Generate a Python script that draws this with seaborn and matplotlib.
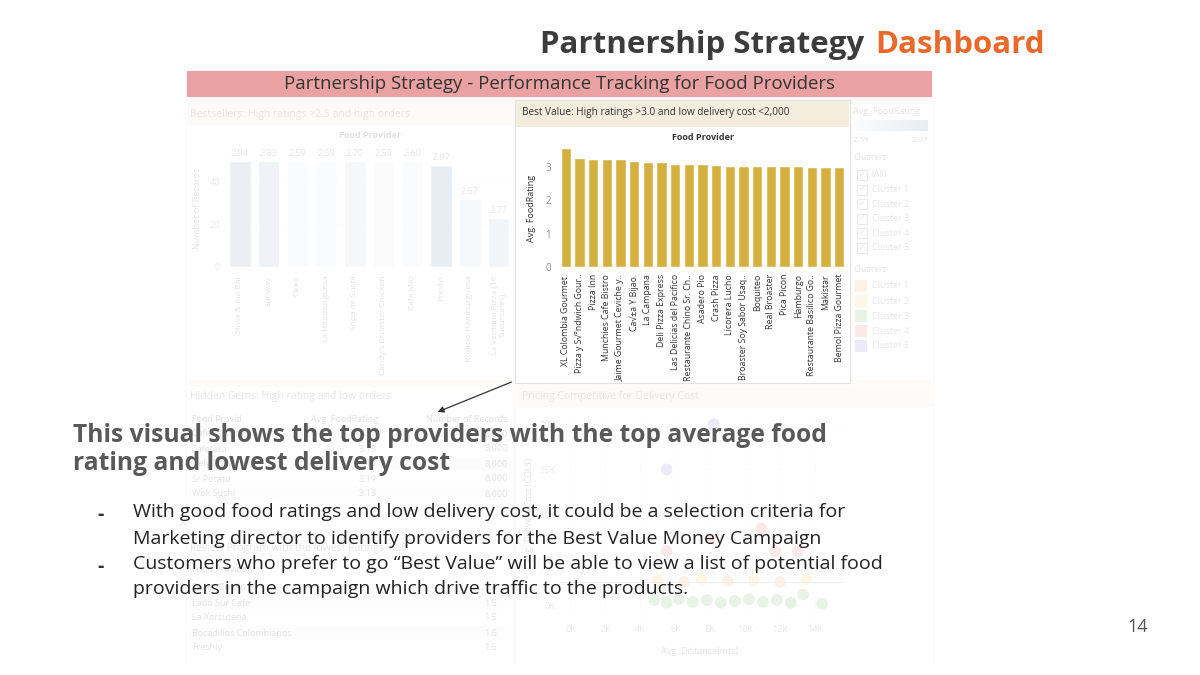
import numpy as np
import pandas as pd
import matplotlib
matplotlib.use("Agg")
import matplotlib.pyplot as plt
import seaborn as sns
from matplotlib.patches import Rectangle, FancyArrowPatch


# Best Value panel (highlighted)
best_value_providers = ["XL Colombia Gourmet.", "Pizza y S√°ndwich Gour..", "Pizza Inn",
                        "Munchies Cafe Bistro", "Jaime Gourmet Ceviche y..", "Ca√±a Y Bijao.",
                        "La Campana", "Deli Pizza Express", "Las Delicias del Pacifico",
                        "Restaurante Chino Sr. Ch..", "Asadero Pio", "Crash Pizza",
                        "Licorera Lucho", "Broaster Soy Sabor Usaq..", "Boquiteo",
                        "Real Broaster", "Pica Picon", "Hamburgo",
                        "Restaurante Basilico Go..", "Makistar", "Bemol Pizza Gourmet"]
best_value_rating = [3.55, 3.25, 3.22, 3.22, 3.22, 3.16, 3.14, 3.14, 3.09, 3.07, 3.07,
                     3.05, 3.02, 3.02, 3.02, 3.02, 3.02, 3.02, 3.00, 3.00, 3.00]

# Bestsellers panel (faded)
bestseller_providers = ["Olivia & Kai Bar", "Subway", "Oxxo", "La Hamburguesa", "Sopa de Sushi",
                        "Candy's Broaster Chicken", "Cafe Mio", "Presto", "Rodizio Hamburguesa",
                        "La Ventana Pizza (10\nSucursales)"]
bestseller_records = [50, 50, 50, 50, 50, 50, 50, 48, 32, 23]
bestseller_rating = [2.94, 2.83, 2.59, 2.59, 2.70, 2.59, 2.60, 2.97, 2.67, 2.77]

# Hidden gems table (faded)
hidden_providers = ["Cafe Cultura", "Cafetera", "Dely Pizza", "Sr Potato", "Wok Sushi"]
hidden_rating = ["3.25", "3.13", "3.13", "3.19", "3.13"]
hidden_records = ["8,000", "8,000", "8,000", "8,000", "8,000"]

# Review program table (faded)
review_providers = ["Sabor Criollo", "Lado Sur Cafe", "La Xarcuteria", "Bocadillos Colombianos", "Freshly"]
review_rating = ["1.4", "1.5", "1.5", "1.6", "1.6"]

# Pricing scatter (faded), thousands
scatter_distance = [8.2, 5.5, 10.9, 8.0, 5.5, 11.7, 13.0, 5.0, 6.5, 7.5, 9.0, 10.5, 12.0, 13.5,
                    4.8, 5.5, 6.2, 7.0, 7.8, 8.6, 9.4, 10.2, 11.0, 11.8, 12.6, 13.3, 14.4]
scatter_cost = [20, 15, 8.5, 7.4, 6.0, 6.0, 6.0, 2.8, 2.6, 2.9, 2.7, 2.8, 2.6, 2.9,
                0.6, 0.3, 0.7, 0.4, 0.6, 0.3, 0.5, 0.7, 0.4, 0.6, 0.3, 1.2, 0.2]
scatter_cluster = ["Cluster 5", "Cluster 5", "Cluster 4", "Cluster 4", "Cluster 4", "Cluster 4",
                   "Cluster 4", "Cluster 2", "Cluster 1", "Cluster 2", "Cluster 1", "Cluster 2",
                   "Cluster 1", "Cluster 2", "Cluster 3", "Cluster 3", "Cluster 3", "Cluster 3",
                   "Cluster 3", "Cluster 3", "Cluster 3", "Cluster 3", "Cluster 3", "Cluster 3",
                   "Cluster 3", "Cluster 3", "Cluster 3"]
cluster_names = ["Cluster 1", "Cluster 2", "Cluster 3", "Cluster 4", "Cluster 5"]
cluster_colors = ["#f4a65c", "#efd35a", "#78b46e", "#e8737a", "#8a86d8"]

bullet_lines = ["With good food ratings and low delivery cost, it could be a selection criteria for",
                "Marketing director to identify providers for the Best Value Money Campaign",
                "Customers who prefer to go \u201cBest Value\u201d will be able to view a list of potential food",
                "providers in the campaign which drive traffic to the products."]
bullet_starts = [True, False, True, False]


sns.set_style("white")
plt.rcParams["font.family"] = ["Open Sans", "DejaVu Sans"]

W, H = 1200, 675


def fx(x):
    return x / W


def fy(y):
    return 1 - y / H


def rect(l, t, r, b):
    return [l / W, 1 - b / H, (r - l) / W, (b - t) / H]


def box(l, t, r, b, **kw):
    fig.add_artist(Rectangle((fx(l), fy(b)), (r - l) / W, (b - t) / H,
                             transform=fig.transFigure, **kw))


def ftext(x, y, s, **kw):
    # text that sits under the white fade
    kw.setdefault("fontsize", 6.5)
    kw.setdefault("color", "#555")
    kw.setdefault("va", "center")
    return fig.text(fx(x), fy(y), s, zorder=1, **kw)


def clean(ax):
    ax.set_facecolor("none")
    for s in ax.spines.values():
        s.set_visible(False)
    ax.tick_params(length=0)
    ax.set_xlabel("")
    ax.set_ylabel("")


fig = plt.figure(figsize=(12, 6.75), dpi=100)

# ---------- dashboard background (faded later) ----------
box(185, 100, 935, 665, facecolor="#f4ede4", edgecolor="none", zorder=-3)
for l, t, r, b in [(187, 103, 513, 380), (852, 103, 933, 380), (187, 387, 513, 540),
                   (187, 542, 513, 665), (517, 387, 933, 665)]:
    box(l, t, r, b, facecolor="white", edgecolor="none", zorder=-2)
box(187, 103, 513, 125, facecolor="#f7e6d6", edgecolor="none", zorder=-1)
box(517, 387, 933, 407, facecolor="#f7e6d6", edgecolor="none", zorder=-1)

# Bestsellers bar chart
ftext(190, 114, "Bestsellers: High ratings >2.5 and high orders", fontsize=7.5, color="#666")
ftext(370, 136, "Food Provider", color="#444", ha="center", fontweight="bold")
cmap = sns.blend_palette(["#e4ebf2", "#7896b5"], as_cmap=True)
bs_colors = [cmap((r - 2.59) / (2.97 - 2.59)) for r in bestseller_rating]
ax1 = fig.add_axes(rect(225.5, 150, 513, 267))
sns.barplot(x=bestseller_providers, y=bestseller_records, hue=bestseller_providers,
            palette=bs_colors, legend=False, width=0.75, saturation=1, ax=ax1)
clean(ax1)
ax1.set_xlim(-0.5, 9.5)
ax1.set_ylim(0, 55)
ax1.set_yticks([0, 20, 40])
ax1.tick_params(axis="y", labelsize=6.5, labelcolor="#777", pad=4)
ax1.tick_params(axis="x", labelsize=6, labelcolor="#555", rotation=90, pad=6)
ax1.yaxis.grid(True, color="#eeeeee", lw=0.6)
for cont, r in zip(ax1.containers, bestseller_rating):
    ax1.bar_label(cont, labels=[f"{r:.2f}"], fontsize=6.5, color="#666", padding=2)
ftext(197, 208, "Number of Records", rotation=90, ha="center")

# Legend panel
ftext(853, 112, "Avg. FoodRating")
grad = fig.add_axes(rect(855, 120, 928, 131))
grad.imshow(np.linspace(0, 1, 100)[None, :], cmap=cmap, aspect="auto")
grad.axis("off")
ftext(853, 140, "2.59", fontsize=6, color="#666")
ftext(928, 140, "2.97", fontsize=6, color="#666", ha="right")
ftext(853, 158, "Clusters")
for i, name in enumerate(["(All)"] + cluster_names):
    y = 175 + i * 14.6
    box(857, y - 5, 867, y + 5, facecolor="white", edgecolor="#777", lw=0.7, zorder=-1)
    ftext(858.5, y, "\u2713", fontsize=6)
    ftext(872, y, name, color="#666")
ftext(853, 270, "Clusters")
for i, (name, c) in enumerate(zip(cluster_names, cluster_colors)):
    y = 286 + i * 15
    box(855, y - 6, 867, y + 6, facecolor=c, edgecolor="none", zorder=-1)
    ftext(872, y, name, color="#666")

# Hidden gems table
ftext(190, 396, "Hidden Gems: High rating and low orders", fontsize=7.5, color="#666")
ftext(192, 419, "Food Provid..", color="#444")
ftext(345, 419, "Avg. FoodRating", color="#444", ha="center")
ftext(508, 419, "Number of Records", color="#444", ha="right")
for i, (p, r, n) in enumerate(zip(hidden_providers, hidden_rating, hidden_records)):
    y = 434 + i * 15
    if i % 2 == 0:
        box(189, y - 7, 511, y + 7, facecolor="#f3f3f3", edgecolor="none", zorder=-1)
    ftext(192, y, p)
    ftext(377, y, r, ha="right")
    ftext(508, y, n, ha="right")

# Review program table
ftext(190, 549, "Review Program with the lowest Ratings <2.0", fontsize=7.5, color="#666")
ftext(192, 569, "Food Provider", color="#444")
ftext(378, 569, "Av..", color="#444", ha="center")
for i, (p, r) in enumerate(zip(review_providers, review_rating)):
    y = 588 + i * 15
    if i % 2 == 1:
        box(189, y - 7, 505, y + 7, facecolor="#f3f3f3", edgecolor="none", zorder=-1)
    ftext(192, y, p)
    ftext(497, y, r, ha="right")

# Pricing scatter
ftext(522, 396, "Pricing Competitive for Delivery Cost", fontsize=7.5, color="#666")
ax3 = fig.add_axes(rect(560, 415, 845, 620))
sdf = pd.DataFrame({"dist": scatter_distance, "cost": scatter_cost, "cluster": scatter_cluster})
sns.scatterplot(data=sdf, x="dist", y="cost", hue="cluster",
                palette=dict(zip(cluster_names, cluster_colors)), s=70, edgecolor="none",
                legend=False, ax=ax3)
clean(ax3)
ax3.set_xlim(-0.6, 15.7)
ax3.set_ylim(-1.6, 21)
ax3.set_xticks(range(0, 15, 2))
ax3.set_xticklabels([f"{v}K" for v in range(0, 15, 2)])
ax3.set_yticks([0, 5, 10, 15, 20])
ax3.set_yticklabels(["0K", "5K", "10K", "15K", "20K"])
ax3.tick_params(labelsize=6.5, labelcolor="#777")
ax3.grid(True, color="#eeeeee", lw=0.6)
ax3.axhline(2.6, color="#999", lw=0.8)
ftext(700, 651, "Avg. Distance(mts)", ha="center")
ftext(530, 510, "Avg. Delivery Cost (COL$)", rotation=90, ha="center")

# fade everything in the dashboard
box(185, 100, 935, 665, facecolor="white", edgecolor="none", alpha=0.84, zorder=3)

# ---------- highlighted Best Value panel ----------
box(515, 100, 850, 383, facecolor="white", edgecolor="#e2e2e2", lw=0.8, zorder=4)
box(516, 101, 849, 127, facecolor="#f4ecdd", edgecolor="none", zorder=4.1)
fig.text(fx(522), fy(113), "Best Value: High ratings >3.0 and low delivery cost <2,000",
         fontsize=7.2, color="#333", va="center", zorder=6)
fig.text(fx(703), fy(137), "Food Provider", fontsize=6.5, color="#333", ha="center",
         va="center", fontweight="bold", zorder=6)
ax2 = fig.add_axes(rect(559, 145, 846, 267), zorder=5)
sns.barplot(x=best_value_providers, y=best_value_rating, color="#d4b041", saturation=1,
            width=0.74, ax=ax2)
clean(ax2)
ax2.set_xlim(-0.5, 20.5)
ax2.set_ylim(0, 3.65)
ax2.set_yticks([0, 1, 2, 3])
ax2.tick_params(axis="y", labelsize=7, labelcolor="#888", pad=6)
ax2.tick_params(axis="x", labelsize=6.3, labelcolor="#333", rotation=90, pad=5)
fig.text(fx(532), fy(208), "Avg. FoodRating", rotation=90, fontsize=6.5, color="#333",
         ha="center", va="center", zorder=6)

# ---------- slide title and header ----------
t1 = fig.text(fx(540), fy(45), "Partnership Strategy", fontsize=22.5, fontweight="bold",
              color="#3c3c3c", va="center", zorder=7)
renderer = fig.canvas.get_renderer()
x_end = t1.get_window_extent(renderer).x1 / fig.bbox.width
fig.text(x_end + 11 / W, fy(45), "Dashboard", fontsize=22.5, fontweight="bold",
         color="#e8692a", va="center", zorder=7)
box(187, 71, 932, 97, facecolor="#e9a1a1", edgecolor="none", zorder=6)
fig.text(fx(560), fy(84), "Partnership Strategy - Performance Tracking for Food Providers",
         fontsize=13.4, color="#333", ha="center", va="center", zorder=7)

# arrow from the panel to the text
fig.add_artist(FancyArrowPatch((fx(514), fy(381)), (fx(435), fy(413)),
                               transform=fig.transFigure, arrowstyle="-|>",
                               mutation_scale=9, color="#333", lw=0.9, zorder=8))

# ---------- commentary ----------
fig.text(fx(73), fy(436), "This visual shows the top providers with the top average food",
         fontsize=17.7, fontweight="bold", color="#595959", va="center", zorder=8)
fig.text(fx(73), fy(463), "rating and lowest delivery cost",
         fontsize=17.7, fontweight="bold", color="#595959", va="center", zorder=8)
for y, txt, start in zip([512, 539, 564, 589], bullet_lines, bullet_starts):
    if start:
        fig.text(fx(97), fy(y + 3), "-", fontsize=14, color="#333", va="center",
                 fontweight="bold", zorder=8)
    fig.text(fx(133), fy(y), txt, fontsize=14, color="#222", va="center", zorder=8)

fig.text(fx(1138), fy(627), "14", fontsize=13, color="#555", ha="center", va="center")

fig.savefig("out.png", dpi=100)
